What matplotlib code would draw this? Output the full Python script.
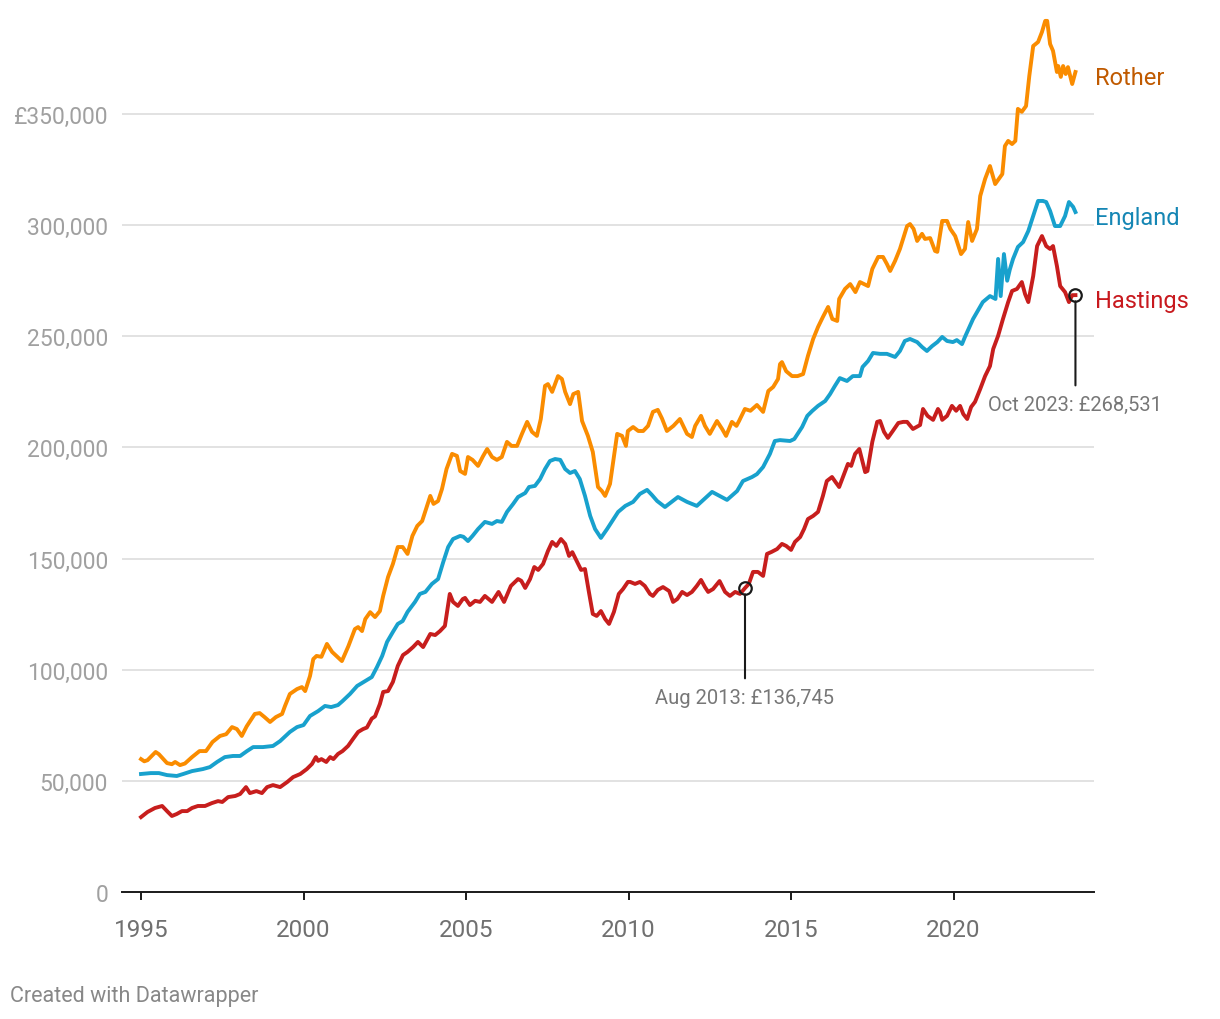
import numpy as np
import matplotlib
matplotlib.use("Agg")
import matplotlib.pyplot as plt

# average house price (decimal year, GBP)
rother_pts = [
    (1995.0, 59800), (1995.1, 58800), (1995.2, 59300), (1995.45, 63000), (1995.55, 62000),
    (1995.8, 58000), (1995.95, 57500), (1996.05, 58500), (1996.2, 57100), (1996.35, 57800),
    (1996.57, 60700), (1996.8, 63400), (1997.0, 63400), (1997.2, 67500), (1997.43, 70200),
    (1997.62, 71000), (1997.8, 74200), (1997.95, 73300), (1998.1, 70200), (1998.25, 74500),
    (1998.5, 80100), (1998.65, 80500), (1998.8, 78700), (1998.97, 76500), (1999.15, 78700),
    (1999.34, 80100), (1999.43, 83700), (1999.58, 89100), (1999.8, 91300), (1999.95, 92200),
    (2000.05, 90400), (2000.2, 97200), (2000.3, 104800), (2000.4, 106200), (2000.55, 105800),
    (2000.72, 111600), (2000.88, 108000), (2001.18, 103900), (2001.38, 110600), (2001.58, 118300),
    (2001.68, 119200), (2001.8, 117400), (2001.9, 122800), (2002.05, 125900), (2002.2, 123700),
    (2002.35, 126400), (2002.45, 133200), (2002.6, 141700), (2002.75, 147600), (2002.9, 155200),
    (2003.05, 155200), (2003.2, 152100), (2003.35, 160200), (2003.5, 164700), (2003.65, 166900),
    (2003.8, 173700), (2003.9, 178200), (2004.0, 174600), (2004.14, 175900), (2004.26, 181300),
    (2004.4, 190300), (2004.57, 197100), (2004.72, 196200), (2004.82, 189400), (2004.97, 188100),
    (2005.06, 195700), (2005.2, 194400), (2005.37, 191700), (2005.52, 196000), (2005.65, 199300),
    (2005.8, 195700), (2005.95, 194400), (2006.1, 195700), (2006.26, 202500), (2006.4, 200700),
    (2006.57, 200700), (2006.72, 206100), (2006.88, 211500), (2007.03, 207000), (2007.18, 205200),
    (2007.3, 212800), (2007.43, 227700), (2007.52, 228500), (2007.65, 225000), (2007.83, 232100),
    (2007.95, 230800), (2008.05, 225000), (2008.2, 219500), (2008.3, 224000), (2008.45, 225000),
    (2008.57, 211900), (2008.75, 205200), (2008.9, 198000), (2009.06, 182200), (2009.18, 180400),
    (2009.28, 178200), (2009.43, 183600), (2009.65, 206100), (2009.8, 205200), (2009.92, 200700),
    (2009.98, 207400), (2010.14, 209200), (2010.3, 207400), (2010.45, 207400), (2010.6, 209700),
    (2010.75, 216000), (2010.9, 216900), (2011.03, 213000), (2011.18, 207400), (2011.38, 209700),
    (2011.58, 212800), (2011.8, 206100), (2011.95, 204700), (2012.05, 209700), (2012.23, 214200),
    (2012.35, 209700), (2012.5, 206100), (2012.72, 211900), (2012.88, 208300), (2013.0, 205200),
    (2013.18, 211500), (2013.32, 209700), (2013.4, 211900), (2013.58, 217300), (2013.75, 216500),
    (2013.95, 219100), (2014.14, 216000), (2014.3, 225400), (2014.45, 227200), (2014.6, 230800),
    (2014.66, 237500), (2014.72, 238400), (2014.85, 234300), (2015.03, 232100), (2015.2, 232100),
    (2015.37, 233000), (2015.52, 241200), (2015.68, 248800), (2015.83, 254200), (2015.98, 258700),
    (2016.14, 263200), (2016.27, 257800), (2016.42, 256900), (2016.48, 266800), (2016.66, 271300),
    (2016.82, 273500), (2016.98, 269900), (2017.12, 274400), (2017.37, 272600), (2017.5, 280300),
    (2017.68, 285700), (2017.83, 285700), (2017.95, 282500), (2018.05, 279400), (2018.2, 283900),
    (2018.35, 289300), (2018.57, 299600), (2018.66, 300500), (2018.77, 298300), (2018.88, 292900),
    (2019.03, 296100), (2019.12, 293800), (2019.28, 294200), (2019.43, 288400), (2019.5, 288000),
    (2019.65, 301900), (2019.8, 301900), (2019.9, 298300), (2020.05, 295100), (2020.23, 287000),
    (2020.35, 289300), (2020.45, 301400), (2020.57, 292900), (2020.72, 298300), (2020.82, 313100),
    (2020.97, 320800), (2021.12, 326600), (2021.28, 318500), (2021.5, 323000), (2021.58, 335600),
    (2021.68, 337900), (2021.8, 336500), (2021.9, 337900), (2021.98, 352300), (2022.1, 351000),
    (2022.23, 353600), (2022.33, 367100), (2022.45, 380600), (2022.6, 382400), (2022.72, 386900),
    (2022.82, 391900), (2022.88, 391900), (2022.97, 381500), (2023.06, 378400), (2023.18, 368900),
    (2023.22, 371600), (2023.3, 366700), (2023.37, 371600), (2023.45, 368000), (2023.52, 371100),
    (2023.65, 363500), (2023.75, 368900),
]

england_pts = [
    (1995.0, 53100), (1995.3, 53500), (1995.55, 53500), (1995.8, 52600), (1996.1, 52200),
    (1996.3, 53100), (1996.57, 54400), (1996.75, 54900), (1996.9, 55300), (1997.12, 56200),
    (1997.34, 58500), (1997.58, 60700), (1997.83, 61200), (1998.05, 61200), (1998.26, 63400),
    (1998.45, 65200), (1998.75, 65200), (1999.06, 65700), (1999.28, 67900), (1999.58, 72000),
    (1999.8, 74200), (2000.0, 75100), (2000.2, 79200), (2000.45, 81400), (2000.66, 83700),
    (2000.85, 83200), (2001.06, 84100), (2001.2, 85900), (2001.43, 89100), (2001.65, 92700),
    (2001.9, 94900), (2002.1, 96700), (2002.26, 101200), (2002.42, 106200), (2002.57, 112500),
    (2002.75, 117000), (2002.9, 120600), (2003.05, 121900), (2003.2, 126000), (2003.43, 130500),
    (2003.58, 134100), (2003.75, 135000), (2003.95, 138600), (2004.14, 140800), (2004.3, 148500),
    (2004.45, 155200), (2004.6, 158800), (2004.82, 160200), (2004.92, 159800), (2005.06, 157900),
    (2005.2, 160200), (2005.37, 163300), (2005.58, 166500), (2005.8, 165600), (2005.95, 166900),
    (2006.1, 166500), (2006.26, 171000), (2006.45, 174600), (2006.6, 177700), (2006.82, 179500),
    (2006.94, 182200), (2007.12, 182700), (2007.28, 185800), (2007.43, 190300), (2007.58, 193900),
    (2007.74, 194800), (2007.9, 194400), (2008.05, 190300), (2008.2, 188500), (2008.35, 189400),
    (2008.5, 185800), (2008.66, 178200), (2008.82, 169200), (2008.97, 163300), (2009.15, 159300),
    (2009.34, 163300), (2009.5, 166900), (2009.68, 171000), (2009.9, 173700), (2010.14, 175500),
    (2010.35, 179100), (2010.57, 180900), (2010.72, 178600), (2010.88, 175900), (2011.12, 173200),
    (2011.28, 175000), (2011.52, 177700), (2011.8, 175500), (2012.1, 173700), (2012.3, 176400),
    (2012.57, 180000), (2012.8, 178200), (2013.03, 176400), (2013.34, 180400), (2013.52, 184900),
    (2013.8, 186700), (2013.95, 188000), (2014.14, 191200), (2014.35, 197100), (2014.5, 202900),
    (2014.66, 203300), (2014.97, 202900), (2015.1, 203800), (2015.34, 209200), (2015.5, 214200),
    (2015.65, 216400), (2015.83, 218700), (2016.05, 220900), (2016.2, 224000), (2016.35, 227700),
    (2016.5, 231200), (2016.72, 229900), (2016.9, 232100), (2017.12, 232100), (2017.2, 236200),
    (2017.37, 238900), (2017.52, 242500), (2017.74, 242100), (2017.95, 242100), (2018.2, 240700),
    (2018.35, 243400), (2018.5, 247900), (2018.66, 248800), (2018.88, 247400), (2019.03, 245200),
    (2019.18, 243400), (2019.34, 245600), (2019.5, 247400), (2019.65, 249700), (2019.8, 247900),
    (2019.98, 247400), (2020.1, 248300), (2020.26, 246500), (2020.35, 249700), (2020.6, 257800),
    (2020.9, 265400), (2021.12, 268100), (2021.29, 266800), (2021.37, 284800), (2021.45, 268100),
    (2021.55, 287000), (2021.65, 275000), (2021.73, 280000), (2021.83, 284800), (2021.98, 290200),
    (2022.14, 292400), (2022.3, 297400), (2022.45, 304100), (2022.6, 310900), (2022.75, 310900),
    (2022.85, 310400), (2022.97, 306400), (2023.12, 299600), (2023.28, 299600), (2023.43, 304100),
    (2023.55, 310400), (2023.68, 308200), (2023.75, 305900),
]

hastings_pts = [
    (1995.0, 33700), (1995.2, 36000), (1995.43, 37800), (1995.65, 38700), (1995.8, 36400),
    (1995.95, 34200), (1996.1, 35100), (1996.26, 36400), (1996.42, 36400), (1996.57, 37800),
    (1996.75, 38700), (1996.97, 38700), (1997.18, 40000), (1997.37, 40900), (1997.5, 40500),
    (1997.68, 42700), (1997.9, 43200), (1998.05, 44100), (1998.23, 47200), (1998.35, 44500),
    (1998.55, 45400), (1998.72, 44500), (1998.88, 47200), (1999.06, 48100), (1999.28, 47200),
    (1999.5, 49500), (1999.68, 51700), (1999.9, 53100), (2000.1, 55300), (2000.26, 57600),
    (2000.38, 60700), (2000.45, 59000), (2000.55, 59800), (2000.7, 58500), (2000.82, 60700),
    (2000.92, 59800), (2001.06, 62100), (2001.2, 63400), (2001.37, 65700), (2001.52, 68800),
    (2001.68, 72000), (2001.83, 73300), (2001.95, 74000), (2002.1, 78000), (2002.2, 79000),
    (2002.35, 84600), (2002.45, 90000), (2002.6, 90400), (2002.75, 94500), (2002.9, 101700),
    (2003.06, 106600), (2003.2, 108000), (2003.37, 110200), (2003.52, 112500), (2003.68, 110200),
    (2003.9, 116100), (2004.05, 115600), (2004.2, 117400), (2004.35, 119700), (2004.5, 134100),
    (2004.6, 130500), (2004.75, 128700), (2004.9, 131800), (2004.97, 132300), (2005.12, 129100),
    (2005.28, 131000), (2005.43, 130500), (2005.58, 133200), (2005.8, 130500), (2006.0, 135000),
    (2006.17, 130500), (2006.38, 137700), (2006.6, 140800), (2006.7, 140000), (2006.82, 136800),
    (2006.97, 140800), (2007.1, 146200), (2007.22, 144900), (2007.37, 147600), (2007.52, 153400),
    (2007.65, 157500), (2007.78, 155700), (2007.92, 158800), (2008.05, 156600), (2008.17, 151200),
    (2008.27, 152900), (2008.42, 148500), (2008.54, 144900), (2008.66, 145300), (2008.78, 135000),
    (2008.9, 125100), (2009.02, 124200), (2009.15, 126400), (2009.28, 122800), (2009.4, 120600),
    (2009.55, 126000), (2009.7, 134100), (2009.83, 136300), (2009.98, 139500), (2010.05, 139500),
    (2010.2, 138600), (2010.35, 139500), (2010.5, 137700), (2010.66, 134100), (2010.75, 133200),
    (2010.9, 135900), (2011.06, 137200), (2011.25, 135400), (2011.37, 130500), (2011.5, 131800),
    (2011.65, 135000), (2011.8, 133600), (2011.95, 135000), (2012.1, 137700), (2012.23, 140400),
    (2012.35, 137200), (2012.45, 135000), (2012.6, 136300), (2012.8, 139900), (2012.97, 135000),
    (2013.12, 133200), (2013.28, 135000), (2013.43, 134100), (2013.583, 136745), (2013.7, 138600),
    (2013.83, 144000), (2013.98, 144000), (2014.14, 142200), (2014.26, 152100), (2014.4, 153000),
    (2014.57, 154300), (2014.72, 156600), (2014.85, 155700), (2015.0, 153900), (2015.12, 157500),
    (2015.28, 159700), (2015.4, 163300), (2015.52, 167800), (2015.68, 169200), (2015.83, 171000),
    (2015.98, 178200), (2016.1, 184900), (2016.26, 186700), (2016.37, 184400), (2016.48, 182200),
    (2016.63, 188000), (2016.75, 192600), (2016.85, 191700), (2016.97, 197100), (2017.1, 199300),
    (2017.28, 188900), (2017.35, 189400), (2017.5, 202500), (2017.65, 211500), (2017.74, 211900),
    (2017.86, 207000), (2017.98, 204300), (2018.13, 207400), (2018.3, 211000), (2018.45, 211500),
    (2018.57, 211500), (2018.75, 208300), (2018.97, 210100), (2019.06, 217300), (2019.2, 214200),
    (2019.37, 212400), (2019.52, 217300), (2019.58, 216000), (2019.65, 212400), (2019.8, 214200),
    (2019.95, 218700), (2020.08, 216500), (2020.2, 218700), (2020.3, 215000), (2020.42, 212800),
    (2020.54, 218200), (2020.66, 220500), (2020.82, 226300), (2020.97, 232100), (2021.12, 236600),
    (2021.22, 244300), (2021.37, 250200), (2021.52, 257800), (2021.68, 265400), (2021.8, 270400),
    (2021.95, 271300), (2022.1, 274400), (2022.2, 269000), (2022.3, 265400), (2022.45, 277100),
    (2022.57, 290600), (2022.72, 295100), (2022.85, 290600), (2022.97, 289300), (2023.06, 290600),
    (2023.18, 281600), (2023.28, 272600), (2023.43, 269900), (2023.55, 265400), (2023.65, 268500),
    (2023.75, 268531),
]

names = ["Rother", "England", "Hastings"]
line_colors = ["#fa8c00", "#18a1cd", "#c71e1d"]
label_colors = ["#c05a00", "#1586b4", "#c8191e"]

notes = [(2013.583, 136745, "Aug 2013: £136,745"), (2023.75, 268531, "Oct 2023: £268,531")]

yticks = [0, 50000, 100000, 150000, 200000, 250000, 300000, 350000]
ylabels = ["0", "50,000", "100,000", "150,000", "200,000", "250,000", "300,000", "£350,000"]
xticks = [1995, 2000, 2005, 2010, 2015, 2020]

plt.rcParams['font.family'] = ['Roboto', 'DejaVu Sans']

fig = plt.figure(figsize=(12.2, 10.2), dpi=100)
ax = fig.add_axes([0.1, 0.1245, 0.7967, 0.8608])

for pts, name, lc, tc in zip([rother_pts, england_pts, hastings_pts], names, line_colors, label_colors):
    yr, val = np.array(pts).T
    ax.plot(yr, val, color=lc, lw=2.8, solid_joinstyle='round', zorder=3)
    ax.annotate(name, xy=(yr[-1], val[-1]), xytext=(14, -4), textcoords='offset points',
                color=tc, fontsize=17, va='center', ha='left', annotation_clip=False)

# highlighted points
for x, v, txt in notes:
    ax.plot(x, v, 'o', mfc='none', mec='#1a1a1a', ms=9, mew=1.6, zorder=5)
    ax.annotate(txt, xy=(x, v), xytext=(0, -72), textcoords='offset points',
                ha='center', va='top', fontsize=14.5, color='#777777', annotation_clip=False,
                arrowprops=dict(arrowstyle='-', color='#1a1a1a', lw=1.5, shrinkA=5, shrinkB=4.5))

ax.set_xlim(1994.415, 2024.32)
ax.set_ylim(0, 395000)

ax.set_yticks(yticks)
ax.set_yticklabels(ylabels)
ax.set_xticks(xticks)
ax.set_xticklabels([str(t) for t in xticks])

ax.tick_params(axis='y', length=0, pad=10, labelsize=16.5, labelcolor='#a0a0a0')
ax.tick_params(axis='x', length=6, width=1.4, color='#1a1a1a', pad=13, labelsize=17.5, labelcolor='#707070')

for s in ['left', 'right', 'top']:
    ax.spines[s].set_visible(False)
ax.spines['bottom'].set_color('#1a1a1a')
ax.spines['bottom'].set_linewidth(1.4)

for t in yticks[1:]:
    ax.axhline(t, color='#e2e2e2', lw=1.4, zorder=1)

fig.text(10 / 1220, 1 - 997 / 1020, "Created with Datawrapper", fontsize=15.5, color='#888888',
         ha='left', va='center')

plt.savefig('out.png', dpi=100)
